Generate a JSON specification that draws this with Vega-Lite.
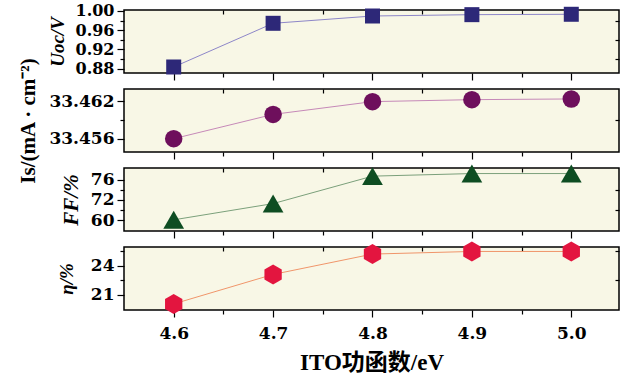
{
  "$schema": "https://vega.github.io/schema/vega-lite/v6.json",
  "background": "white",
  "padding": {"left": 17, "top": 2, "right": 5, "bottom": 5},
  "spacing": 16,
  "bounds": "flush",
  "align": "all",
  "config": {
    "view": {"stroke": "black", "strokeWidth": 1.5, "fill": "#f8f7e6"},
    "axis": {
      "domain": false, "grid": false, "tickColor": "black", "tickWidth": 1.2,
      "labelFont": "DejaVu Serif", "labelFontWeight": "bold", "labelColor": "black", "labelFontSize": 16,
      "titleFont": "Liberation Serif", "titleFontWeight": "bold", "titleColor": "black", "titleFontSize": 18, "titleFontStyle": "italic"
    }
  },
  "vconcat": [
    {
      "width": 495, "height": 63,
      "data": {"values": [
        {"ev": 4.6, "v": 0.8833}, {"ev": 4.7, "v": 0.9743}, {"ev": 4.8, "v": 0.9895}, {"ev": 4.9, "v": 0.9923}, {"ev": 5.0, "v": 0.9931}
      ]},
      "layer": [
        {"mark": {"type": "line", "color": "#8d86c8", "strokeWidth": 1},
         "encoding": {
           "x": {"field": "ev", "type": "quantitative", "scale": {"domain": [4.55, 5.048], "nice": false, "zero": false},
                 "axis": {"orient": "bottom", "values": [4.6, 4.7, 4.8, 4.9, 5.0], "tickSize": 7, "labels": false, "title": null}},
           "y": {"field": "v", "type": "quantitative", "scale": {"domain": [0.8708, 1.002], "nice": false, "zero": false},
                 "axis": {"orient": "left", "values": [0.88, 0.92, 0.96, 1.0], "format": ".2f", "tickSize": 7, "labelPadding": 3, "labelFontSize": 16, "titlePadding": 8, "title": "Uoc/V", "titleFontSize": 19}}
         }},
        {"mark": {"type": "point", "shape": "square", "filled": true, "size": 225, "color": "#2d2878", "opacity": 1},
         "encoding": {
           "x": {"field": "ev", "type": "quantitative", "axis": {"orient": "bottom", "values": [4.65, 4.75, 4.85, 4.95], "tickSize": 4, "labels": false, "title": null}},
           "y": {"field": "v", "type": "quantitative", "axis": {"orient": "left", "values": [0.9, 0.94, 0.98], "tickSize": 4, "labels": false, "title": null}}
         }},
        {"mark": {"type": "point", "opacity": 0},
         "encoding": {
           "x": {"field": "ev", "type": "quantitative", "axis": {"orient": "top", "values": [4.65, 4.75, 4.85, 4.95], "tickSize": -4, "labels": false, "title": null}},
           "y": {"field": "v", "type": "quantitative", "axis": {"orient": "right", "values": [0.9, 0.94, 0.98], "tickSize": -4, "labels": false, "title": null}}
         }}
      ],
      "resolve": {"axis": {"x": "independent", "y": "independent"}}
    },
    {
      "width": 495, "height": 63,
      "data": {"values": [
        {"ev": 4.6, "v": 33.456}, {"ev": 4.7, "v": 33.4599}, {"ev": 4.8, "v": 33.46195}, {"ev": 4.9, "v": 33.46227}, {"ev": 5.0, "v": 33.46238}
      ]},
      "layer": [
        {"mark": {"type": "line", "color": "#c689b8", "strokeWidth": 1},
         "encoding": {
           "x": {"field": "ev", "type": "quantitative", "scale": {"domain": [4.55, 5.048], "nice": false, "zero": false},
                 "axis": {"orient": "bottom", "values": [4.6, 4.7, 4.8, 4.9, 5.0], "tickSize": 7, "labels": false, "title": null}},
           "y": {"field": "v", "type": "quantitative", "scale": {"domain": [33.45386, 33.46398], "nice": false, "zero": false},
                 "axis": {"orient": "left", "values": [33.456, 33.462], "format": ".3f", "tickSize": 7, "labelPadding": 3, "labelFontSize": 17, "titlePadding": 10, "title": "Is/(mA · cm⁻²)", "titleFontSize": 21, "titleFontStyle": "normal"}}
         }},
        {"mark": {"type": "point", "shape": "circle", "filled": true, "size": 306, "color": "#6e0f5c", "opacity": 1},
         "encoding": {
           "x": {"field": "ev", "type": "quantitative", "axis": {"orient": "bottom", "values": [4.65, 4.75, 4.85, 4.95], "tickSize": 4, "labels": false, "title": null}},
           "y": {"field": "v", "type": "quantitative", "axis": {"orient": "left", "values": [33.459], "tickSize": 4, "labels": false, "title": null}}
         }},
        {"mark": {"type": "point", "opacity": 0},
         "encoding": {
           "x": {"field": "ev", "type": "quantitative", "axis": {"orient": "top", "values": [4.65, 4.75, 4.85, 4.95], "tickSize": -4, "labels": false, "title": null}},
           "y": {"field": "v", "type": "quantitative", "axis": {"orient": "right", "values": [33.459], "tickSize": -4, "labels": false, "title": null}}
         }}
      ],
      "resolve": {"axis": {"x": "independent", "y": "independent"}}
    },
    {
      "width": 495, "height": 63,
      "data": {"values": [
        {"ev": 4.6, "v": 60.1}, {"ev": 4.7, "v": 69.6}, {"ev": 4.8, "v": 76.7}, {"ev": 4.9, "v": 77.24}, {"ev": 5.0, "v": 77.24}
      ]},
      "layer": [
        {"mark": {"type": "line", "color": "#7ba07b", "strokeWidth": 1},
         "encoding": {
           "x": {"field": "ev", "type": "quantitative", "scale": {"domain": [4.55, 5.048], "nice": false, "zero": false},
                 "axis": {"orient": "bottom", "values": [4.6, 4.7, 4.8, 4.9, 5.0], "tickSize": 7, "labels": false, "title": null}},
           "y": {"field": "v", "type": "quantitative", "scale": {"domain": [57.8, 60, 72, 76, 78.4], "range": [63, 52, 31.5, 11.5, 0], "nice": false, "zero": false},
                 "axis": {"orient": "left", "values": [60, 72, 76], "format": "d", "tickSize": 7, "labelPadding": 3, "labelFontSize": 17, "titlePadding": 9, "title": "FF/%", "titleFontSize": 21}}
         }},
        {"mark": {"type": "point", "shape": "triangle-up", "filled": true, "size": 430, "color": "#0e4d22", "opacity": 1},
         "encoding": {
           "x": {"field": "ev", "type": "quantitative", "axis": {"orient": "bottom", "values": [4.65, 4.75, 4.85, 4.95], "tickSize": 4, "labels": false, "title": null}},
           "y": {"field": "v", "type": "quantitative", "axis": {"orient": "left", "values": [66, 74], "tickSize": 4, "labels": false, "title": null}}
         }},
        {"mark": {"type": "point", "opacity": 0},
         "encoding": {
           "x": {"field": "ev", "type": "quantitative", "axis": {"orient": "top", "values": [4.65, 4.75, 4.85, 4.95], "tickSize": -4, "labels": false, "title": null}},
           "y": {"field": "v", "type": "quantitative", "axis": {"orient": "right", "values": [66, 74], "tickSize": -4, "labels": false, "title": null}}
         }}
      ],
      "resolve": {"axis": {"x": "independent", "y": "independent"}}
    },
    {
      "width": 495, "height": 63,
      "data": {"values": [
        {"ev": 4.6, "v": 20.06}, {"ev": 4.7, "v": 23.1}, {"ev": 4.8, "v": 25.2}, {"ev": 4.9, "v": 25.47}, {"ev": 5.0, "v": 25.47}
      ]},
      "layer": [
        {"mark": {"type": "line", "color": "#f0956a", "strokeWidth": 1},
         "encoding": {
           "x": {"field": "ev", "type": "quantitative", "scale": {"domain": [4.55, 5.048], "nice": false, "zero": false},
                 "axis": {"orient": "bottom", "values": [4.6, 4.7, 4.8, 4.9, 5.0], "format": ".1f", "tickSize": 7, "labelFontSize": 17, "labelPadding": 8,
                          "title": "ITO功函数/eV", "titleFont": "Liberation Serif, Noto Sans CJK SC", "titleFontSize": 23, "titleFontStyle": "normal", "titlePadding": 10}},
           "y": {"field": "v", "type": "quantitative", "scale": {"domain": [19.43, 25.93], "nice": false, "zero": false},
                 "axis": {"orient": "left", "values": [21, 24], "format": "d", "tickSize": 7, "labelPadding": 3, "labelFontSize": 17, "titlePadding": 14, "title": "η/%", "titleFontSize": 19}}
         }},
        {"mark": {"type": "point", "shape": "M0,-1L0.866,-0.5L0.866,0.5L0,1L-0.866,0.5L-0.866,-0.5Z", "filled": true, "size": 400, "color": "#e3153f", "opacity": 1},
         "encoding": {
           "x": {"field": "ev", "type": "quantitative", "axis": {"orient": "bottom", "values": [4.65, 4.75, 4.85, 4.95], "tickSize": 4, "labels": false, "title": null}},
           "y": {"field": "v", "type": "quantitative", "axis": {"orient": "left", "values": [22.5, 25.5], "tickSize": 4, "labels": false, "title": null}}
         }},
        {"mark": {"type": "point", "opacity": 0},
         "encoding": {
           "x": {"field": "ev", "type": "quantitative", "axis": {"orient": "top", "values": [4.65, 4.75, 4.85, 4.95], "tickSize": -4, "labels": false, "title": null}},
           "y": {"field": "v", "type": "quantitative", "axis": {"orient": "right", "values": [22.5, 25.5], "tickSize": -4, "labels": false, "title": null}}
         }}
      ],
      "resolve": {"axis": {"x": "independent", "y": "independent"}}
    }
  ]
}
